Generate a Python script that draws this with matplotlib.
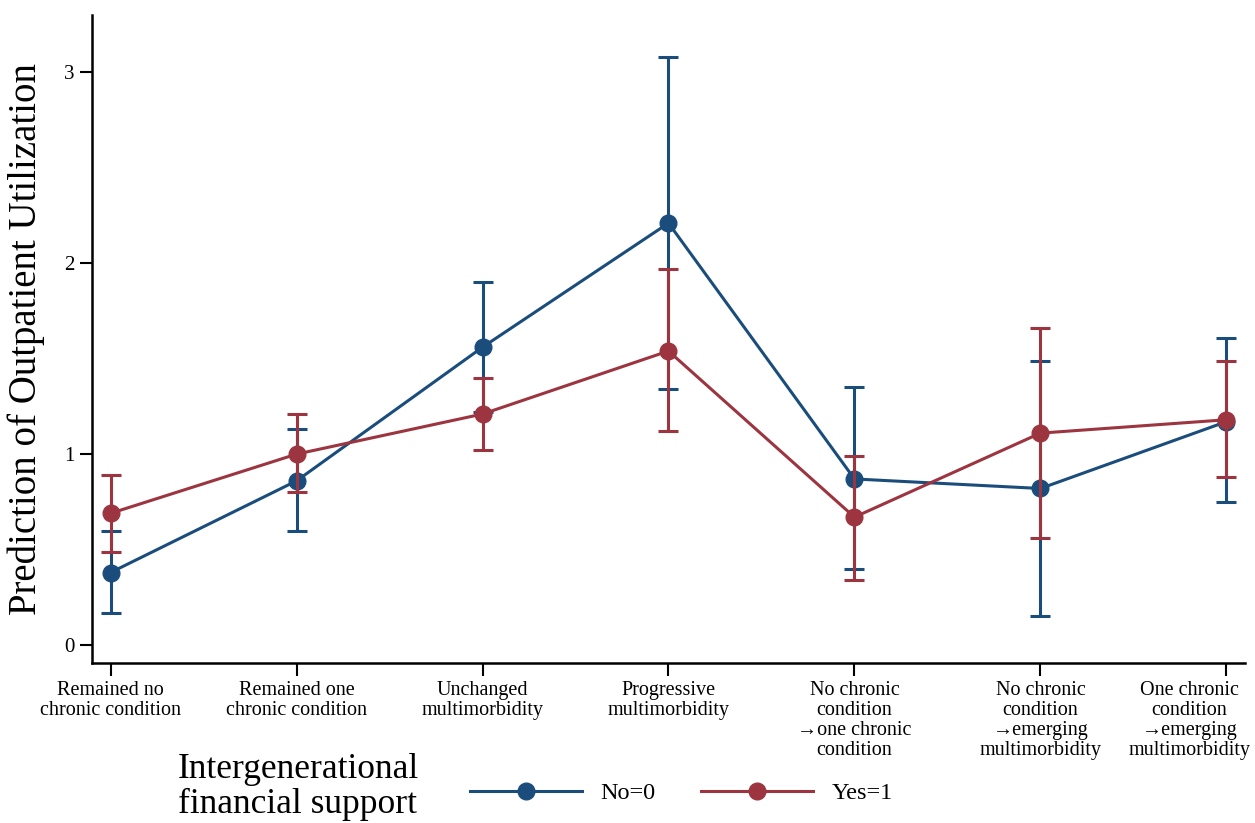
import matplotlib.pyplot as plt
from matplotlib.lines import Line2D
from matplotlib.transforms import ScaledTranslation

categories = [
    "Remained no\nchronic condition",
    "Remained one\nchronic condition",
    "Unchanged\nmultimorbidity",
    "Progressive\nmultimorbidity",
    "No chronic\ncondition\n\u2192one chronic\ncondition",
    "No chronic\ncondition\n\u2192emerging\nmultimorbidity",
    "One chronic\ncondition\n\u2192emerging\nmultimorbidity",
]

# No=0
no_mean = [0.38, 0.86, 1.56, 2.21, 0.87, 0.82, 1.17]
no_low = [0.17, 0.60, 1.22, 1.34, 0.40, 0.15, 0.75]
no_high = [0.60, 1.13, 1.90, 3.08, 1.35, 1.49, 1.61]

# Yes=1
yes_mean = [0.69, 1.00, 1.21, 1.54, 0.67, 1.11, 1.18]
yes_low = [0.49, 0.80, 1.02, 1.12, 0.34, 0.56, 0.88]
yes_high = [0.89, 1.21, 1.40, 1.97, 0.99, 1.66, 1.49]

blue = "#1b4d7c"
red = "#9c3540"

plt.rcParams["font.family"] = ["Liberation Serif", "DejaVu Serif"]

fig = plt.figure(figsize=(12.55, 8.23), dpi=100)
ax = fig.add_axes([0.0733, 0.1944, 0.9187, 0.7874])

x = list(range(len(categories)))


def draw(mean, low, high, color, z):
    yerr = [[m - l for m, l in zip(mean, low)], [h - m for m, h in zip(mean, high)]]
    ax.errorbar(x, mean, yerr=yerr, fmt="none", ecolor=color, elinewidth=2.2,
                capsize=7, capthick=2.2, zorder=z)
    ax.plot(x, mean, color=color, lw=2.2, marker="o", markersize=12, zorder=z + 0.5)


draw(no_mean, no_low, no_high, blue, 2)
draw(yes_mean, yes_low, yes_high, red, 3)

ax.set_xlim(-0.1, 6.1)
ax.set_ylim(-0.094, 3.3)
ax.set_yticks([0, 1, 2, 3])
ax.set_xticks(x)
ax.set_xticklabels(categories, fontsize=14.5, linespacing=1.08)
ax.tick_params(axis="both", direction="out", length=9, width=1.5, labelsize=15)
ax.tick_params(axis="x", labelsize=14.5, pad=4)
for s in ["top", "right"]:
    ax.spines[s].set_visible(False)
for s in ["left", "bottom"]:
    ax.spines[s].set_linewidth(1.8)

# last label is pushed left so it stays inside the figure
last = ax.get_xticklabels()[-1]
last.set_transform(last.get_transform() + ScaledTranslation(-0.37, 0, fig.dpi_scale_trans))

ax.set_ylabel("Prediction of Outpatient Utilization", fontsize=28, labelpad=14)

fig.text(0.1418, 0.003, "Intergenerational\nfinancial support", fontsize=25.5,
         ha="left", va="bottom", linespacing=1.05)

handles = [
    Line2D([], [], color=blue, lw=2.2, marker="o", markersize=12),
    Line2D([], [], color=red, lw=2.2, marker="o", markersize=12),
]
fig.legend(handles, ["No=0", "Yes=1"], loc="center left", bbox_to_anchor=(0.357, 0.036),
           ncol=2, frameon=False, fontsize=17.5, handlelength=4.6, columnspacing=1.9,
           handletextpad=0.75)

fig.savefig("out.png", dpi=100)
